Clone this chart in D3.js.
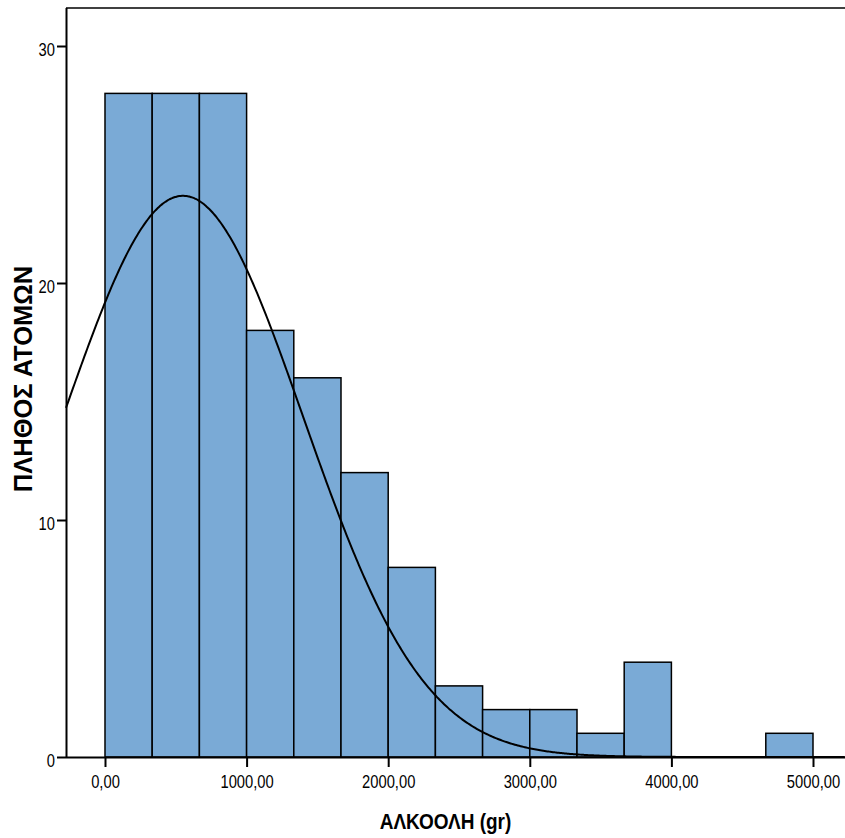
<!DOCTYPE html>
<html><head><meta charset="utf-8">
<script src="https://cdn.jsdelivr.net/npm/d3@7"></script>
<style>
body{margin:0;background:#fff;}
svg text{font-family:"Liberation Sans",Arial,sans-serif;}
</style></head>
<body>
<svg id="c" width="845" height="838"></svg>
<script>
// Data
const binEdges = [0,333.33,666.67,1000,1333.33,1666.67,2000,2333.33,2666.67,3000,3333.33,3666.67,4000,4333.33,4666.67,5000];
const binCounts = [28,28,28,18,16,12,8,3,2,2,1,4,0,0,1];
const xTicks = [0,1000,2000,3000,4000,5000];
const xTickLabels = ["0,00","1000,00","2000,00","3000,00","4000,00","5000,00"];
const yTicks = [0,10,20,30];
const fitMean = 551;
const fitSD = 848;
const xTitle = "ΑΛΚΟΟΛΗ (gr)";
const yTitle = "ΠΛΗΘΟΣ ΑΤΟΜΩΝ";

const svg = d3.select("#c");
const mL = 66, mR = 845, mT = 8, mB = 757;
const x = d3.scaleLinear().domain([-275.4, 5226]).range([mL, mR]);
const y = d3.scaleLinear().domain([0, 30]).range([mB, 46]);
const sx = 0.82;

// frame top line
svg.append("line").attr("x1",mL).attr("x2",mR).attr("y1",mT).attr("y2",mT)
  .attr("stroke","#000").attr("stroke-width",1.5);

// bars
const bins = binCounts.map((c,i)=>({x0:binEdges[i],x1:binEdges[i+1],c}));
svg.append("g").selectAll("rect").data(bins.filter(d=>d.c>0)).join("rect")
  .attr("x",d=>x(d.x0)).attr("width",d=>x(d.x1)-x(d.x0))
  .attr("y",d=>y(d.c)).attr("height",d=>y(0)-y(d.c))
  .attr("fill","#7aaad6").attr("stroke","#000").attr("stroke-width",1.5);

// normal curve
const N = d3.sum(binCounts);
const bw = binEdges[1]-binEdges[0];
const xs = d3.range(x.invert(mL), x.invert(mR)+1, 10);
const f = v => N*bw/(fitSD*Math.sqrt(2*Math.PI))*Math.exp(-0.5*Math.pow((v-fitMean)/fitSD,2));
svg.append("path").datum(xs)
  .attr("d", d3.line().x(v=>x(v)).y(v=>y(f(v))).curve(d3.curveBasis))
  .attr("fill","none").attr("stroke","#000").attr("stroke-width",2);

// x axis
const xa = svg.append("g").attr("transform",`translate(0,${mB})`)
  .call(d3.axisBottom(x).tickValues(xTicks).tickFormat((d,i)=>xTickLabels[i]).tickSize(10).tickPadding(8));
xa.select(".domain").attr("d",`M${mL},0.5H${mR}`).attr("stroke-width",2);
xa.selectAll(".tick line").attr("stroke-width",2);
xa.selectAll("text").attr("font-size",18).attr("fill","#000")
  .attr("font-family","'Liberation Sans',Arial,sans-serif")
  .attr("transform",`scale(${sx},1)`);

// y axis
const ya = svg.append("g").attr("transform",`translate(${mL},0)`)
  .call(d3.axisLeft(y).tickValues(yTicks).tickSize(9).tickPadding(2));
ya.select(".domain").attr("d",`M0.5,${mT}V${mB}`).attr("stroke-width",2);
ya.selectAll(".tick line").attr("stroke-width",2);
ya.selectAll("text").attr("font-size",18).attr("fill","#000")
  .attr("font-family","'Liberation Sans',Arial,sans-serif")
  .attr("x",-11/sx).attr("dy","0.5em")
  .attr("transform",`scale(${sx},1)`);

// titles
svg.append("text").attr("transform","translate(445.5,829) scale(0.864,1)").attr("text-anchor","middle")
  .attr("font-size",22).attr("font-weight","bold").text(xTitle);
svg.append("text").attr("transform","translate(32,379) rotate(-90)").attr("text-anchor","middle")
  .attr("font-size",25.5).attr("font-weight","bold").text(yTitle);
</script>
</body></html>
